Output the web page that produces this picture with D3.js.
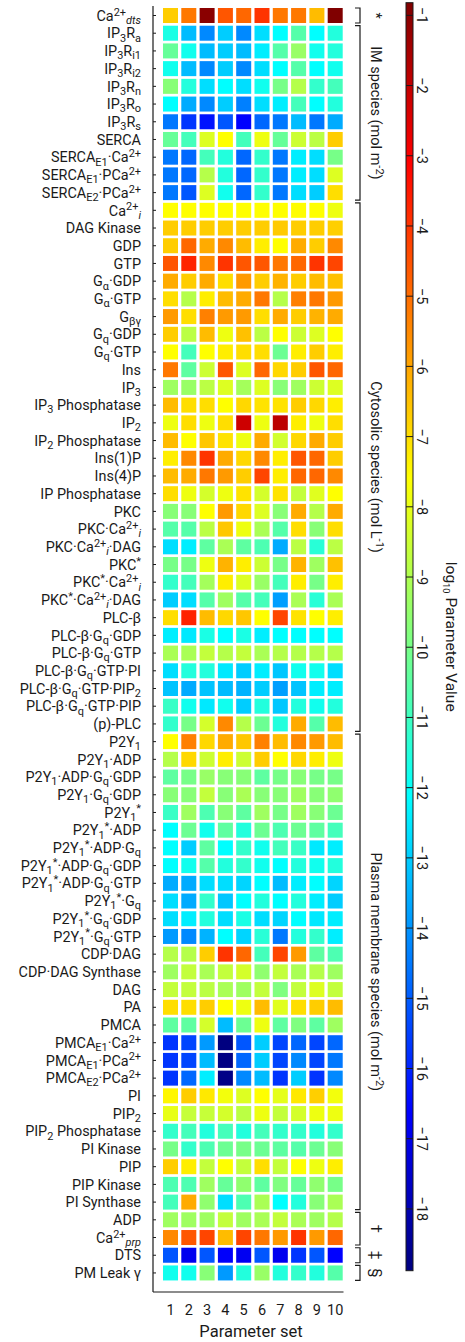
<!DOCTYPE html>
<html>
<head>
<meta charset="utf-8">
<script src="https://cdn.jsdelivr.net/npm/d3@7"></script>
<style>
  html, body { margin: 0; padding: 0; background: #fff; }
  svg { display: block; font-family: Roboto, "Liberation Sans", sans-serif; }
</style>
</head>
<body>
<svg id="chart" width="465" height="1342"></svg>
<script>
// ---- Parameter sets (columns) ----
const paramSets = ["1", "2", "3", "4", "5", "6", "7", "8", "9", "10"];
const colorbarTicks = d3.range(-18, 0); // -18 … -1

// ---- Species labels per compartment (markup: ^{sup}, _{sub}, ~ = italic) ----
const dtsSpecies = ["Ca^{2+}_{~dts}"];
const imSpecies = [
  "IP_{3}R_{a}", "IP_{3}R_{i1}", "IP_{3}R_{i2}", "IP_{3}R_{n}", "IP_{3}R_{o}", "IP_{3}R_{s}",
  "SERCA", "SERCA_{E1}·Ca^{2+}", "SERCA_{E1}·PCa^{2+}", "SERCA_{E2}·PCa^{2+}"
];
const cytosolicSpecies = [
  "Ca^{2+}_{~i}", "DAG Kinase", "GDP", "GTP", "G_{α}·GDP", "G_{α}·GTP", "G_{βγ}",
  "G_{q}·GDP", "G_{q}·GTP", "Ins", "IP_{3}", "IP_{3} Phosphatase", "IP_{2}",
  "IP_{2} Phosphatase", "Ins(1)P", "Ins(4)P", "IP Phosphatase", "PKC",
  "PKC·Ca^{2+}_{~i}", "PKC·Ca^{2+}_{~i}·DAG", "PKC^{*}", "PKC^{*}·Ca^{2+}_{~i}",
  "PKC^{*}·Ca^{2+}_{~i}·DAG", "PLC-β", "PLC-β·G_{q}·GDP", "PLC-β·G_{q}·GTP",
  "PLC-β·G_{q}·GTP·PI", "PLC-β·G_{q}·GTP·PIP_{2}", "PLC-β·G_{q}·GTP·PIP", "(p)-PLC"
];
const membraneSpecies = [
  "P2Y_{1}", "P2Y_{1}·ADP", "P2Y_{1}·ADP·G_{q}·GDP", "P2Y_{1}·G_{q}·GDP", "P2Y_{1}^{*}",
  "P2Y_{1}^{*}·ADP", "P2Y_{1}^{*}·ADP·G_{q}", "P2Y_{1}^{*}·ADP·G_{q}·GDP",
  "P2Y_{1}^{*}·ADP·G_{q}·GTP", "P2Y_{1}^{*}·G_{q}", "P2Y_{1}^{*}·G_{q}·GDP",
  "P2Y_{1}^{*}·G_{q}·GTP", "CDP·DAG", "CDP·DAG Synthase", "DAG", "PA", "PMCA",
  "PMCA_{E1}·Ca^{2+}", "PMCA_{E1}·PCa^{2+}", "PMCA_{E2}·PCa^{2+}", "PI", "PIP_{2}",
  "PIP_{2} Phosphatase", "PI Kinase", "PIP", "PIP Kinase", "PI Synthase"
];
const daggerSpecies = ["ADP", "Ca^{2+}_{~prp}"];
const ddaggerSpecies = ["DTS"];
const sectionSpecies = ["PM Leak γ"];

// ---- log10 parameter values, one row per species, one entry per parameter set ----
const dtsValues = [
  [-6.7, -5.2, -1.0, -4.6, -4.9, -4.0, -5.2, -5.2, -6.4, -0.82]
];
const imValues = [
  [-11.65, -13.3, -14.2, -13.0, -14.2, -12.7, -12.1, -10.6, -12.1, -11.5],
  [-10.3, -11.8, -13.3, -13.0, -13.3, -12.4, -10.6, -9.4, -11.8, -11.5],
  [-11.8, -13.3, -14.2, -13.0, -14.2, -12.7, -12.1, -10.6, -12.1, -11.8],
  [-9.7, -11.5, -12.7, -12.1, -12.7, -11.8, -10.0, -8.9, -11.2, -10.9],
  [-12.1, -13.6, -14.2, -13.0, -14.35, -12.7, -12.4, -10.9, -12.1, -11.5],
  [-14.5, -15.7, -16.3, -15.1, -16.6, -14.8, -14.5, -13.3, -14.5, -13.6],
  [-10.3, -10.9, -8.2, -7.6, -10.9, -7.9, -10.3, -8.5, -8.8, -6.7],
  [-14.5, -14.8, -10.9, -11.5, -14.8, -11.2, -14.5, -12.4, -12.7, -10.0],
  [-14.5, -14.8, -8.9, -11.5, -14.8, -11.2, -14.5, -12.4, -12.7, -8.2],
  [-14.5, -15.1, -8.2, -11.8, -14.8, -11.2, -14.5, -12.7, -13.0, -7.0]
];
const cytosolicValues = [
  [-7.6, -7.6, -7.6, -7.6, -7.6, -7.6, -7.6, -7.55, -7.6, -7.9],
  [-6.7, -6.7, -6.7, -6.7, -6.7, -6.7, -6.65, -6.7, -6.7, -6.75],
  [-6.7, -4.9, -6.1, -5.5, -6.4, -7.3, -7.6, -6.1, -6.7, -5.5],
  [-4.6, -3.7, -5.5, -4.0, -4.6, -4.6, -5.2, -4.9, -4.0, -4.3],
  [-6.1, -6.7, -6.1, -7.0, -5.8, -6.7, -6.25, -6.7, -6.4, -6.5],
  [-7.0, -8.9, -7.3, -6.4, -6.1, -5.2, -8.9, -5.35, -5.2, -5.8],
  [-5.8, -7.0, -5.35, -5.8, -5.8, -7.0, -6.1, -6.7, -6.25, -6.1],
  [-6.7, -8.8, -6.4, -7.9, -6.5, -8.8, -7.6, -8.5, -8.2, -7.6],
  [-7.6, -10.9, -7.6, -7.3, -7.0, -7.0, -10.2, -7.3, -6.7, -7.3],
  [-5.2, -10.45, -8.5, -4.6, -8.2, -4.9, -6.9, -6.7, -4.6, -4.9],
  [-9.3, -9.4, -8.8, -8.2, -9.2, -8.2, -9.7, -9.3, -8.5, -8.2],
  [-6.4, -7.0, -7.0, -7.6, -6.9, -7.1, -7.1, -6.7, -6.9, -7.3],
  [-7.9, -7.0, -7.9, -7.0, -2.2, -7.9, -1.9, -7.3, -7.9, -7.0],
  [-6.4, -7.6, -6.6, -7.1, -7.9, -6.1, -8.4, -6.9, -6.1, -6.7],
  [-7.3, -5.5, -4.0, -6.1, -6.9, -5.5, -7.3, -4.6, -4.9, -6.7],
  [-6.4, -6.1, -5.2, -5.8, -6.7, -4.3, -7.3, -4.9, -4.9, -5.5],
  [-7.0, -7.9, -8.35, -7.9, -7.1, -8.35, -7.1, -8.65, -8.15, -7.6],
  [-9.7, -9.7, -7.6, -5.8, -6.9, -8.2, -9.7, -6.1, -8.9, -6.1],
  [-10.6, -10.6, -8.8, -6.6, -7.9, -9.1, -10.6, -7.0, -9.7, -7.0],
  [-12.7, -12.4, -10.45, -9.1, -10.45, -10.75, -13.6, -8.8, -11.4, -8.8],
  [-10.0, -10.0, -7.9, -6.25, -7.3, -8.5, -10.0, -6.25, -9.3, -6.5],
  [-11.2, -10.9, -9.2, -7.3, -8.2, -9.4, -10.9, -7.3, -10.0, -7.3],
  [-13.0, -12.7, -10.6, -9.3, -10.6, -10.9, -13.8, -9.1, -11.4, -9.1],
  [-7.0, -3.7, -6.4, -6.9, -6.6, -7.6, -4.3, -7.1, -7.6, -7.3],
  [-12.4, -12.5, -11.65, -12.1, -11.65, -12.4, -12.1, -12.1, -12.1, -12.1],
  [-9.1, -9.1, -8.65, -8.9, -8.65, -9.1, -8.9, -8.9, -8.9, -8.9],
  [-12.7, -11.5, -11.5, -12.5, -13.0, -12.4, -13.1, -11.8, -11.8, -12.7],
  [-13.15, -13.6, -13.15, -13.3, -13.45, -13.0, -13.8, -13.15, -12.4, -12.4],
  [-11.1, -11.8, -12.5, -11.8, -13.0, -11.5, -13.1, -11.5, -11.8, -11.5],
  [-11.2, -10.0, -8.35, -5.5, -8.9, -10.2, -11.5, -6.1, -10.6, -6.4]
];
const membraneValues = [
  [-7.6, -5.35, -6.9, -6.1, -6.6, -5.35, -6.4, -5.5, -5.8, -6.4],
  [-8.9, -6.9, -8.5, -7.3, -8.5, -6.7, -7.6, -6.9, -7.3, -7.9],
  [-10.45, -10.0, -9.4, -9.7, -9.7, -10.45, -10.0, -9.7, -10.0, -10.0],
  [-9.7, -9.7, -8.65, -9.7, -9.1, -9.7, -9.7, -9.3, -9.7, -9.55],
  [-11.1, -9.3, -10.75, -9.7, -10.45, -9.3, -10.0, -9.3, -9.7, -10.2],
  [-12.1, -10.2, -11.8, -10.45, -11.5, -10.2, -10.75, -10.2, -10.45, -10.9],
  [-12.1, -13.0, -10.45, -12.1, -11.2, -11.8, -10.9, -11.1, -12.5, -12.4],
  [-12.1, -11.8, -10.6, -11.5, -11.2, -11.8, -12.1, -11.5, -11.8, -11.5],
  [-13.6, -13.6, -12.7, -12.7, -12.85, -12.1, -13.3, -12.4, -12.1, -12.85],
  [-12.7, -13.6, -11.2, -13.1, -12.1, -11.5, -12.1, -11.5, -12.4, -13.0],
  [-12.7, -12.4, -11.5, -12.7, -11.65, -12.7, -12.85, -12.1, -12.5, -12.4],
  [-13.9, -14.2, -13.45, -12.1, -12.85, -11.4, -14.5, -11.5, -11.2, -12.4],
  [-8.9, -8.9, -6.7, -4.0, -4.9, -10.9, -4.3, -5.8, -10.45, -10.75],
  [-9.3, -8.65, -9.1, -8.65, -8.35, -9.55, -8.65, -9.1, -8.9, -9.3],
  [-8.65, -8.65, -8.8, -9.1, -9.3, -8.65, -9.85, -8.65, -8.2, -8.65],
  [-7.0, -7.0, -6.7, -7.6, -7.9, -6.4, -8.15, -7.0, -6.7, -6.4],
  [-10.45, -10.45, -8.35, -13.3, -10.2, -7.9, -10.45, -9.85, -10.45, -9.3],
  [-15.7, -15.4, -13.9, -18.88, -15.1, -13.0, -15.4, -14.8, -15.4, -14.8],
  [-15.7, -15.4, -13.3, -18.8, -14.8, -13.0, -15.4, -14.2, -15.4, -14.5],
  [-15.7, -14.8, -12.4, -18.75, -14.2, -13.3, -15.7, -13.0, -15.7, -14.2],
  [-7.45, -6.7, -7.2, -7.8, -8.2, -7.6, -8.05, -7.2, -6.75, -7.8],
  [-8.0, -8.6, -8.6, -8.35, -8.8, -7.9, -8.65, -8.35, -7.9, -7.9],
  [-11.2, -10.9, -11.5, -10.9, -11.5, -10.9, -11.2, -11.2, -11.5, -11.2],
  [-10.0, -11.2, -10.75, -10.2, -10.0, -10.2, -10.45, -10.6, -10.2, -9.7],
  [-6.7, -7.3, -8.65, -7.6, -8.65, -7.0, -8.65, -7.6, -7.9, -7.3],
  [-10.75, -10.75, -9.3, -10.3, -9.55, -10.45, -9.85, -10.3, -9.55, -10.0],
  [-10.9, -6.1, -9.55, -12.7, -10.75, -9.1, -12.1, -11.5, -9.7, -9.1]
];
const daggerValues = [
  [-9.3, -9.3, -9.3, -8.65, -9.3, -9.1, -8.65, -9.1, -9.3, -8.9],
  [-5.5, -4.6, -4.3, -6.4, -4.3, -5.2, -5.8, -4.0, -5.8, -4.9]
];
const ddaggerValues = [
  [-15.1, -16.9, -15.1, -16.7, -16.85, -15.1, -16.9, -15.7, -15.1, -16.6]
];
const sectionValues = [
  [-11.8, -11.8, -9.7, -13.9, -11.5, -9.4, -11.5, -11.2, -11.5, -10.6]
];

// ---- Compartments, in drawing order ----
const groups = [
  { label: "*", species: dtsSpecies, values: dtsValues },
  { label: "IM species (mol m^{-2})", species: imSpecies, values: imValues },
  { label: "Cytosolic species (mol L^{-1})", species: cytosolicSpecies, values: cytosolicValues },
  { label: "Plasma membrane species (mol m^{-2})", species: membraneSpecies, values: membraneValues },
  { label: "†", species: daggerSpecies, values: daggerValues },
  { label: "‡", species: ddaggerSpecies, values: ddaggerValues },
  { label: "§", species: sectionSpecies, values: sectionValues }
];

// Flatten into rows and cells
const rows = [];
groups.forEach((g, gi) => {
  g.first = rows.length;
  g.species.forEach((s, i) => rows.push({ key: String(rows.length), label: s, values: g.values[i], group: gi }));
  g.last = rows.length - 1;
});
const cells = [];
rows.forEach(r => r.values.forEach((v, j) => cells.push({ row: r.key, col: paramSets[j], value: v })));

// ---- Jet colormap ----
function jet(t) {
  const c = x => Math.max(0, Math.min(1, x));
  const r = c(Math.min(4 * t - 1.5, -4 * t + 4.5));
  const g = c(Math.min(4 * t - 0.5, -4 * t + 3.5));
  const b = c(Math.min(4 * t + 0.5, -4 * t + 2.5));
  return d3.rgb(r * 255, g * 255, b * 255).formatHex();
}
const extent = d3.extent(cells, d => d.value);
const color = d3.scaleSequential(jet).domain(extent);

// ---- Layout ----
const svg = d3.select("#chart");
const x = d3.scaleBand().domain(paramSets).range([161.35, 344.35]).paddingInner(0.18).paddingOuter(0.09);
const y = d3.scaleBand().domain(rows.map(r => r.key)).range([6.65, 1281.8]).paddingInner(0.153).paddingOuter(0.0765);

const ink = "#1a1a1a";
const baseFont = 14.4;

// Rich text: ^{..} superscript, _{..} subscript, leading ~ inside braces = italic
function richText(textSel, markup, size, scale = 0.76) {
  const re = /([\^_])\{([^}]*)\}|([^\^_]+)/g;
  let m, cur = 0;
  while ((m = re.exec(markup))) {
    let txt, shift = 0, fs = size, italic = false;
    if (m[3] !== undefined) {
      txt = m[3];
    } else {
      txt = m[2];
      if (txt.startsWith("~")) { italic = true; txt = txt.slice(1); }
      fs = size * scale;
      shift = m[1] === "^" ? -0.36 * size : 0.22 * size;
    }
    textSel.append("tspan")
      .attr("dy", (shift - cur).toFixed(2))
      .attr("font-size", fs)
      .attr("font-style", italic ? "italic" : null)
      .text(txt);
    cur = shift;
  }
}

// ---- Heatmap cells ----
svg.append("g").selectAll("rect").data(cells).join("rect")
  .attr("x", d => x(d.col))
  .attr("y", d => y(d.row))
  .attr("width", x.bandwidth())
  .attr("height", y.bandwidth())
  .attr("fill", d => color(d.value));

// ---- Axes ----
const axisX0 = 153, axisY1 = 1292;
svg.append("line").attr("x1", axisX0).attr("x2", axisX0).attr("y1", 6).attr("y2", axisY1)
  .attr("stroke", ink).attr("stroke-width", 1.2);
svg.append("line").attr("x1", axisX0).attr("x2", 343.5).attr("y1", axisY1).attr("y2", axisY1)
  .attr("stroke", ink).attr("stroke-width", 1.2);

// y ticks (inward) and species labels
const yTicks = svg.append("g");
rows.forEach(r => {
  const cy = y(r.key) + y.bandwidth() / 2;
  yTicks.append("line").attr("x1", axisX0).attr("x2", axisX0 + 3).attr("y1", cy).attr("y2", cy)
    .attr("stroke", ink).attr("stroke-width", 1);
  const t = yTicks.append("text")
    .attr("x", 141).attr("y", cy + baseFont * 0.36)
    .attr("text-anchor", "end").attr("font-size", baseFont).attr("fill", ink);
  richText(t, r.label, baseFont);
});

// x tick labels
svg.append("g").selectAll("text").data(paramSets).join("text")
  .attr("x", d => x(d) + x.bandwidth() / 2)
  .attr("y", 1315)
  .attr("text-anchor", "middle").attr("font-size", 14.5).attr("fill", ink)
  .text(d => d);
svg.append("text").attr("x", 251).attr("y", 1337)
  .attr("text-anchor", "middle").attr("font-size", 16.5).attr("fill", ink)
  .text("Parameter set");

// ---- Compartment brackets ----
const bx = 360, bStub = 5;
groups.forEach(g => {
  const top = y(rows[g.first].key);
  const bot = y(rows[g.last].key) + y.bandwidth();
  svg.append("path")
    .attr("d", `M${bx - bStub},${top}H${bx}V${bot}H${bx - bStub}`)
    .attr("fill", "none").attr("stroke", ink).attr("stroke-width", 1.2);
  const mid = (top + bot) / 2;
  const t = svg.append("text")
    .attr("transform", `translate(376,${mid}) rotate(90)`)
    .attr("text-anchor", "middle").attr("y", 14.5 * 0.36)
    .attr("font-size", 14.5).attr("fill", ink);
  richText(t, g.label, 14.5);
});

// ---- Colorbar ----
const cbX = 406, cbW = 7, cbTop = 2.7, cbBot = 1270.7;
const cbScale = d3.scaleLinear().domain(extent).range([cbBot, cbTop]);
const grad = svg.append("defs").append("linearGradient")
  .attr("id", "jetGrad").attr("x1", 0).attr("y1", 1).attr("x2", 0).attr("y2", 0);
d3.range(0, 1.0001, 1 / 128).forEach(t => {
  grad.append("stop").attr("offset", t).attr("stop-color", jet(t));
});
svg.append("rect").attr("x", cbX).attr("y", cbTop).attr("width", cbW).attr("height", cbBot - cbTop)
  .attr("fill", "url(#jetGrad)").attr("stroke", ink).attr("stroke-width", 1);
const cbg = svg.append("g");
colorbarTicks.forEach(v => {
  const ty = cbScale(v);
  cbg.append("line").attr("x1", cbX).attr("x2", cbX + cbW).attr("y1", ty).attr("y2", ty)
    .attr("stroke", ink).attr("stroke-width", 1);
  cbg.append("text")
    .attr("transform", `translate(422.5,${ty}) rotate(90)`)
    .attr("text-anchor", "middle").attr("y", 14.5 * 0.36)
    .attr("font-size", 14.5).attr("fill", ink)
    .text("\u2212" + Math.abs(v));
});
const title = svg.append("text")
  .attr("transform", `translate(452,${(cbTop + cbBot) / 2}) rotate(90)`)
  .attr("text-anchor", "middle").attr("y", 15.5 * 0.36)
  .attr("font-size", 15.5).attr("fill", ink);
richText(title, "log_{10} Parameter Value", 15.5, 0.6);
</script>
</body>
</html>
